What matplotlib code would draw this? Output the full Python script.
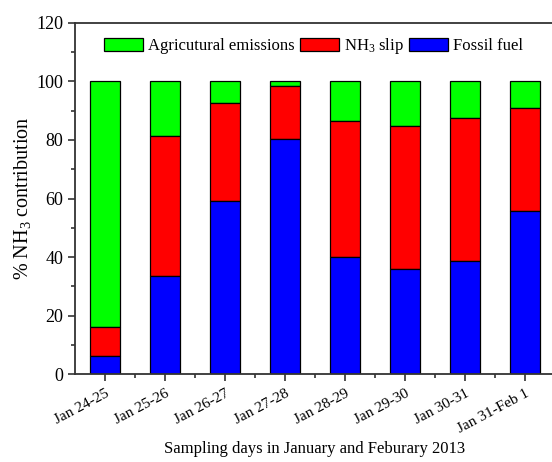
import matplotlib
matplotlib.use("Agg")
import matplotlib.pyplot as plt
import numpy as np
from matplotlib.ticker import MultipleLocator

categories = ["Jan 24-25", "Jan 25-26", "Jan 26-27", "Jan 27-28",
              "Jan 28-29", "Jan 29-30", "Jan 30-31", "Jan 31-Feb 1"]
fossil = [6.1, 33.5, 59.1, 80.4, 39.9, 35.8, 38.5, 55.9]
nh3_slip = [10.1, 47.9, 33.4, 18.1, 46.5, 49.1, 48.9, 34.9]
agri = [83.8, 18.6, 7.5, 1.5, 13.6, 15.1, 12.6, 9.2]

plt.rcParams['font.family'] = ['Liberation Serif', 'DejaVu Serif']
plt.rcParams['mathtext.fontset'] = 'custom'
plt.rcParams['mathtext.rm'] = 'Liberation Serif'
plt.rcParams['mathtext.it'] = 'Liberation Serif:italic'

fig = plt.figure(figsize=(5.52, 4.62), dpi=100)
ax = fig.add_axes([75/552, 87.7/462, 480/552, 351.6/462])

x = np.arange(len(categories))
w = 0.5
fossil_a = np.array(fossil)
slip_a = np.array(nh3_slip)
agri_a = np.array(agri)
b_ag = ax.bar(x, agri_a, w, bottom=fossil_a + slip_a, color='#00FF00', edgecolor='black', linewidth=0.9,
              label='Agricutural emissions')
b_sl = ax.bar(x, slip_a, w, bottom=fossil_a, color='#FF0000', edgecolor='black', linewidth=0.9,
              label='NH$_3$ slip')
b_fo = ax.bar(x, fossil_a, w, color='#0000FF', edgecolor='black', linewidth=0.9,
              label='Fossil fuel')

ax.set_xlim(-0.5, len(categories) - 0.5)
ax.set_ylim(0, 120)
ax.yaxis.set_major_locator(MultipleLocator(20))
ax.yaxis.set_minor_locator(MultipleLocator(10))
ax.set_xticks(x)
ax.set_xticks(x[:-1] + 0.5, minor=True)
ax.set_xticklabels(categories, rotation=28, ha='right', rotation_mode='anchor', fontsize=11)
ax.tick_params(axis='both', which='major', direction='out', length=5, width=1.1, colors='#222222',
               labelcolor='black', labelsize=13)
ax.tick_params(axis='x', which='major', labelsize=11, pad=4)
ax.tick_params(axis='both', which='minor', direction='out', length=3, width=1.1, colors='#222222')
for s in ax.spines.values():
    s.set_linewidth(1.3)
    s.set_color('#333333')

ax.set_ylabel('% NH$_3$ contribution', fontsize=14.5, labelpad=2)
ax.set_xlabel('Sampling days in January and Feburary 2013', fontsize=12, labelpad=4)

leg = ax.legend(handles=[b_ag, b_sl, b_fo], ncol=3, frameon=False,
                loc='center left', bbox_to_anchor=(104/552, 1 - 46.3/462),
                bbox_transform=fig.transFigure, borderpad=0, borderaxespad=0,
                handlelength=2.35, handleheight=0.85, handletextpad=0.3,
                columnspacing=0.3, fontsize=12)

fig.savefig('out.png', dpi=100)
